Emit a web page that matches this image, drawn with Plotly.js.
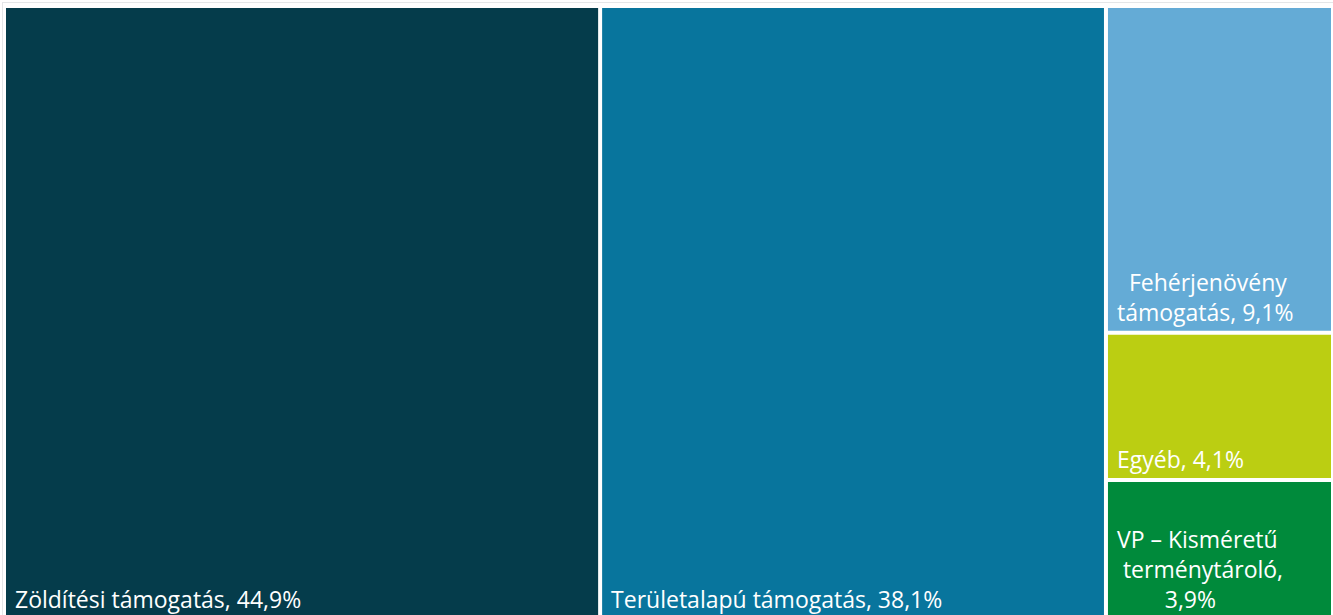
<!DOCTYPE html>
<html>
<head>
<meta charset="utf-8">
<script src="https://cdn.plot.ly/plotly-3.0.1.min.js"></script>
<style>
html,body{margin:0;padding:0;overflow:hidden;background:#fff;width:1333px;height:615px;}
#frame{position:absolute;left:2px;top:2px;width:1340px;height:640px;border-left:1px solid #e4e6e8;border-top:1px solid #e4e6e8;}
#chart{position:absolute;left:0;top:0;width:1333px;height:618px;}
</style>
</head>
<body>
<div id="frame"></div>
<div id="chart"></div>
<script>
const categories = ["Zöldítési támogatás", "Területalapú támogatás", "Fehérjenövény támogatás", "Egyéb", "VP – Kisméretű terménytároló"];
const values = [44.9, 38.1, 9.1, 4.1, 3.9];
const NB = "\u00a0";
const labelTexts = [
  NB + "Zöldítési támogatás, 44,9%",
  NB + "Területalapú támogatás, 38,1%",
  NB + NB + NB + "Fehérjenövény<br>" + NB + "támogatás, 9,1%",
  NB + "Egyéb, 4,1%",
  NB + "VP – Kisméretű<br>" + NB + NB + "terménytároló,<br>" + NB.repeat(9) + "3,9%"
];
const colors = ["#053c4b", "#08759d", "#64abd6", "#bbce12", "#008a3b"];

const trace = {
  type: "treemap",
  labels: categories,
  parents: categories.map(() => ""),
  values: values,
  text: labelTexts,
  textinfo: "text",
  textposition: "bottom left",
  hoverinfo: "skip",
  sort: true,
  marker: {
    colors: colors,
    line: {color: "#ffffff", width: 0},
    pad: {t: 0, l: 0, r: 0, b: 0}
  },
  tiling: {packing: "squarify", pad: 4},
  pathbar: {visible: false},
  insidetextfont: {family: "Open Sans, Noto Sans, sans-serif", size: 23, color: "#ffffff"}
};

const layout = {
  width: 1333,
  height: 618,
  margin: {l: 6, r: 2, t: 8, b: 0},
  paper_bgcolor: "rgba(0,0,0,0)",
  plot_bgcolor: "rgba(0,0,0,0)",
  showlegend: false
};

Plotly.newPlot("chart", [trace], layout, {displayModeBar: false, staticPlot: true});
</script>
</body>
</html>
